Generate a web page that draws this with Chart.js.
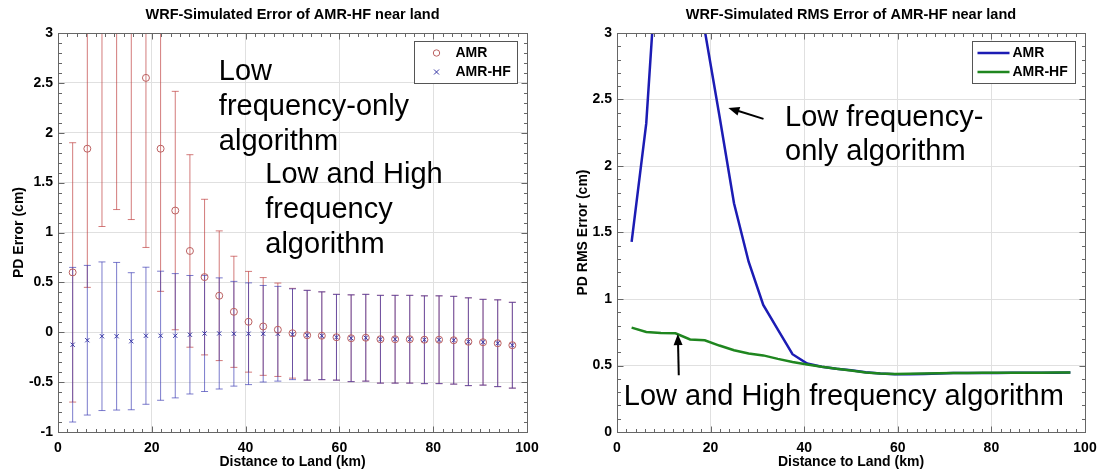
<!DOCTYPE html>
<html lang="en">
<head>
<meta charset="UTF-8">
<title>WRF-Simulated Error of AMR-HF near land</title>
<style>
  body { margin: 0; background: #fff; }
  .panel { position: absolute; top: 0; height: 472px; }
  #left { left: 0; width: 550px; }
  #right { left: 560px; width: 538px; }
</style>
</head>
<body>
<div class="panel" id="left"><canvas id="errChart"></canvas></div>
<div class="panel" id="right"><canvas id="rmsChart"></canvas></div>
<script src="https://cdn.jsdelivr.net/npm/chart.js"></script>
<script>
// distance bins (km)
const distanceKm = [3.125, 6.25, 9.375, 12.5, 15.625, 18.75, 21.875, 25, 28.125, 31.25,
  34.375, 37.5, 40.625, 43.75, 46.875, 50, 53.125, 56.25, 59.375, 62.5,
  65.625, 68.75, 71.875, 75, 78.125, 81.25, 84.375, 87.5, 90.625, 93.75, 96.875];

// left panel: mean PD error and spread (cm)
const amrMean = [0.60, 1.84, 3.3, 3.2, 3.2, 2.55, 1.84, 1.22, 0.815, 0.553,
  0.366, 0.205, 0.105, 0.058, 0.025, -0.01, -0.03, -0.035, -0.05, -0.06,
  -0.055, -0.07, -0.07, -0.07, -0.075, -0.075, -0.08, -0.095, -0.10, -0.11, -0.13];
const amrStd = [1.30, 1.39, 2.24, 1.97, 2.07, 1.70, 1.43, 1.195, 0.965, 0.78,
  0.65, 0.557, 0.505, 0.49, 0.468, 0.45, 0.45, 0.44, 0.43, 0.435,
  0.435, 0.44, 0.44, 0.44, 0.44, 0.44, 0.44, 0.44, 0.43, 0.435, 0.43];
const hfMean = [-0.125, -0.08, -0.04, -0.04, -0.09, -0.035, -0.035, -0.035, -0.025, -0.012,
  -0.012, -0.015, -0.015, -0.015, -0.015, -0.02, -0.03, -0.035, -0.05, -0.06,
  -0.055, -0.07, -0.07, -0.07, -0.075, -0.075, -0.08, -0.095, -0.10, -0.11, -0.13];
const hfStd = [0.775, 0.75, 0.745, 0.74, 0.687, 0.687, 0.647, 0.623, 0.594, 0.582,
  0.557, 0.525, 0.51, 0.484, 0.475, 0.455, 0.45, 0.44, 0.43, 0.435,
  0.435, 0.44, 0.44, 0.44, 0.44, 0.44, 0.44, 0.44, 0.43, 0.435, 0.43];

// right panel: RMS error (cm)
const amrRms = [1.43, 2.32, 4.0, 5.2, 4.6, 3.02, 2.38, 1.72, 1.28, 0.955,
  0.77, 0.585, 0.515, 0.49, 0.475, 0.465, 0.45, 0.44, 0.435, 0.435,
  0.437, 0.44, 0.443, 0.443, 0.444, 0.444, 0.445, 0.445, 0.445, 0.446, 0.447];
const hfRms = [0.785, 0.752, 0.745, 0.742, 0.696, 0.69, 0.65, 0.615, 0.59, 0.576,
  0.55, 0.527, 0.508, 0.49, 0.475, 0.462, 0.448, 0.44, 0.437, 0.438,
  0.44, 0.442, 0.444, 0.444, 0.445, 0.445, 0.446, 0.446, 0.446, 0.447, 0.448];

const xTicks = [0, 20, 40, 60, 80, 100];
const yTicksErr = [-1, -0.5, 0, 0.5, 1, 1.5, 2, 2.5, 3];
const yTicksRms = [0, 0.5, 1, 1.5, 2, 2.5, 3];

const FONT = '"Liberation Sans", Arial, sans-serif';
const gridColor = '#e0e0e0';
const axisColor = '#666';

function pts(ys) {
  return distanceKm.map((x, i) => ({ x: x, y: ys[i] }));
}

function xScale() {
  return {
    type: 'linear', min: 0, max: 100,
    afterBuildTicks: s => { s.ticks = xTicks.map(v => ({ value: v })); },
    afterFit: s => { s.height = 40; s.paddingLeft = 0; s.paddingRight = 0; },
    grid: { color: gridColor, drawTicks: false },
    border: { display: false },
    ticks: {
      color: '#000', font: { family: FONT, size: 14, weight: 'bold' }, padding: 8, maxRotation: 0,
      callback: v => String(v)
    },
    title: {
      display: true, text: 'Distance to Land (km)', color: '#000',
      font: { family: FONT, size: 14, weight: 'bold' }, padding: { top: 0, bottom: 1 }
    }
  };
}

function yScale(min, max, ticks, text, width, titlePad) {
  return {
    type: 'linear', min: min, max: max,
    afterBuildTicks: s => { s.ticks = ticks.map(v => ({ value: v })); },
    afterFit: s => { s.width = width; },
    grid: { color: gridColor, drawTicks: false },
    border: { display: false },
    ticks: {
      color: '#000', font: { family: FONT, size: 14, weight: 'bold' }, padding: 5,
      callback: v => String(v)
    },
    title: {
      display: true, text: text, color: '#000',
      font: { family: FONT, size: 14, weight: 'bold' }, padding: { top: titlePad, bottom: 0 }
    }
  };
}

function titleOpts(text) {
  return {
    display: true, text: text, fullSize: false, color: '#000',
    font: { family: FONT, size: 14.5, weight: 'bold' },
    padding: { top: 6.6, bottom: 9 }
  };
}

// vertical error bars with caps, drawn under the markers
const errorBars = {
  id: 'errorBars',
  beforeDatasetsDraw(chart) {
    const { ctx, chartArea: a, scales: { x, y } } = chart;
    ctx.save();
    ctx.beginPath();
    ctx.rect(a.left, a.top, a.width, a.height);
    ctx.clip();
    chart.data.datasets.forEach(ds => {
      if (!ds.errors) return;
      ctx.strokeStyle = ds.barColor;
      ctx.lineWidth = 1;
      ctx.beginPath();
      ds.data.forEach((p, i) => {
        const px = x.getPixelForValue(p.x);
        const top = y.getPixelForValue(p.y + ds.errors[i]);
        const bot = y.getPixelForValue(p.y - ds.errors[i]);
        ctx.moveTo(px, top); ctx.lineTo(px, bot);
        ctx.moveTo(px - 3.5, top); ctx.lineTo(px + 3.5, top);
        ctx.moveTo(px - 3.5, bot); ctx.lineTo(px + 3.5, bot);
      });
      ctx.stroke();
    });
    ctx.restore();
  }
};

// axes box with inward major/minor ticks on all four sides
function axesBox(xMinor, xMajor, yMinor, yMajor) {
  return {
    id: 'axesBox',
    afterDraw(chart) {
      const { ctx, chartArea: a, scales: { x, y } } = chart;
      const L = Math.round(a.left) + 0.5, R = Math.round(a.right) + 0.5;
      const T = Math.round(a.top) + 0.5, B = Math.round(a.bottom) + 0.5;
      const isMajor = (v, m) => Math.abs(v / m - Math.round(v / m)) < 1e-6;
      ctx.save();
      ctx.strokeStyle = axisColor;
      ctx.lineWidth = 1;
      ctx.beginPath();
      for (let v = x.min; v <= x.max + 1e-9; v += xMinor) {
        const px = Math.round(x.getPixelForValue(v)) + 0.5;
        const len = isMajor(v, xMajor) ? 6 : 3.5;
        ctx.moveTo(px, B); ctx.lineTo(px, B - len);
        ctx.moveTo(px, T); ctx.lineTo(px, T + len);
      }
      for (let v = y.min; v <= y.max + 1e-9; v += yMinor) {
        const py = Math.round(y.getPixelForValue(v)) + 0.5;
        const len = isMajor(v, yMajor) ? 6 : 3.5;
        ctx.moveTo(L, py); ctx.lineTo(L + len, py);
        ctx.moveTo(R, py); ctx.lineTo(R - len, py);
      }
      ctx.stroke();
      ctx.strokeRect(L, T, R - L, B - T);
      ctx.restore();
    }
  };
}

// boxed legend in the top right corner of the plot
const boxLegend = {
  id: 'boxLegend',
  afterDraw(chart) {
    const { ctx, chartArea: a } = chart;
    const w = 103, h = 42;
    const bx = Math.round(a.right - 10 - w) + 0.5, by = Math.round(a.top + 8) + 0.5;
    ctx.save();
    ctx.fillStyle = '#fff';
    ctx.fillRect(bx, by, w, h);
    ctx.strokeStyle = '#555';
    ctx.lineWidth = 1;
    ctx.strokeRect(bx, by, w, h);
    ctx.font = 'bold 14px ' + FONT;
    ctx.textBaseline = 'middle';
    chart.data.datasets.forEach((ds, i) => {
      const ry = by + 11.5 + i * 19;
      if (chart.config.type === 'line') {
        ctx.strokeStyle = ds.borderColor;
        ctx.lineWidth = 2.5;
        ctx.beginPath();
        ctx.moveTo(bx + 5, ry); ctx.lineTo(bx + 37, ry);
        ctx.stroke();
        ctx.fillStyle = '#000';
        ctx.fillText(ds.label, bx + 40, ry);
      } else {
        ctx.strokeStyle = ds.borderColor;
        ctx.lineWidth = 1;
        ctx.beginPath();
        const cx = bx + 22;
        if (ds.pointStyle === 'circle') {
          ctx.arc(cx, ry, 3.2, 0, Math.PI * 2);
        } else {
          ctx.moveTo(cx - 2.5, ry - 2.5); ctx.lineTo(cx + 2.5, ry + 2.5);
          ctx.moveTo(cx + 2.5, ry - 2.5); ctx.lineTo(cx - 2.5, ry + 2.5);
        }
        ctx.stroke();
        ctx.fillStyle = '#000';
        ctx.fillText(ds.label, bx + 41, ry);
      }
    });
    ctx.restore();
  }
};

// big annotation texts and arrows, anchored in data units
const errNotes = [
  { x: 34.3, y: 2.53, gap: 35, lines: ['Low', 'frequency-only', 'algorithm'] },
  { x: 44.2, y: 1.50, gap: 35, lines: ['Low and High', 'frequency', 'algorithm'] }
];
const rmsNotes = [
  { x: 35.9, y: 2.30, gap: 33.5, lines: ['Low frequency-', 'only algorithm'] },
  { x: 1.45, y: 0.20, gap: 0, lines: ['Low and High frequency algorithm'] }
];
const rmsArrows = [
  { from: [31.3, 2.354], to: [23.8, 2.437] },
  { from: [13.2, 0.427], to: [13.0, 0.736] }
];

function notes(list, arrows) {
  return {
    id: 'notes',
    afterDraw(chart) {
      const { ctx, scales: { x, y } } = chart;
      ctx.save();
      ctx.fillStyle = '#000';
      ctx.strokeStyle = '#000';
      ctx.font = '29px ' + FONT;
      ctx.textBaseline = 'alphabetic';
      list.forEach(n => {
        const px = x.getPixelForValue(n.x), py = y.getPixelForValue(n.y);
        n.lines.forEach((t, i) => ctx.fillText(t, px, py + i * n.gap));
      });
      arrows.forEach(ar => {
        const x0 = x.getPixelForValue(ar.from[0]), y0 = y.getPixelForValue(ar.from[1]);
        const x1 = x.getPixelForValue(ar.to[0]), y1 = y.getPixelForValue(ar.to[1]);
        const ang = Math.atan2(y1 - y0, x1 - x0);
        ctx.lineWidth = 2;
        ctx.beginPath();
        ctx.moveTo(x0, y0);
        ctx.lineTo(x1 - 8 * Math.cos(ang), y1 - 8 * Math.sin(ang));
        ctx.stroke();
        ctx.beginPath();
        ctx.moveTo(x1, y1);
        ctx.lineTo(x1 - 11 * Math.cos(ang) + 4.5 * Math.sin(ang), y1 - 11 * Math.sin(ang) - 4.5 * Math.cos(ang));
        ctx.lineTo(x1 - 11 * Math.cos(ang) - 4.5 * Math.sin(ang), y1 - 11 * Math.sin(ang) + 4.5 * Math.cos(ang));
        ctx.closePath();
        ctx.fill();
      });
      ctx.restore();
    }
  };
}

new Chart(document.getElementById('errChart'), {
  type: 'scatter',
  data: {
    datasets: [{
      label: 'AMR',
      data: pts(amrMean),
      errors: amrStd,
      barColor: 'rgba(190, 60, 60, 0.68)',
      pointStyle: 'circle',
      pointRadius: 3.5,
      borderWidth: 1,
      borderColor: '#bb6060',
      backgroundColor: 'rgba(0,0,0,0)'
    }, {
      label: 'AMR-HF',
      data: pts(hfMean),
      errors: hfStd,
      barColor: 'rgba(60, 60, 180, 0.68)',
      pointStyle: 'crossRot',
      pointRadius: 3,
      borderWidth: 1,
      borderColor: '#3535a5',
      backgroundColor: '#3535a5'
    }]
  },
  options: {
    responsive: true,
    maintainAspectRatio: false,
    animation: false,
    layout: { padding: { left: 0, right: 23, top: 0, bottom: 0 } },
    scales: {
      x: xScale(),
      y: yScale(-1, 3, yTicksErr, 'PD Error (cm)', 58, 10.5)
    },
    plugins: {
      legend: { display: false },
      tooltip: { enabled: false },
      title: titleOpts('WRF-Simulated Error of AMR-HF near land')
    }
  },
  plugins: [errorBars, axesBox(2, 20, 0.1, 0.5), boxLegend, notes(errNotes, [])]
});

new Chart(document.getElementById('rmsChart'), {
  type: 'line',
  data: {
    datasets: [{
      label: 'AMR',
      data: pts(amrRms),
      borderColor: '#1c1cb4',
      borderWidth: 2.5,
      pointRadius: 0,
      order: 1
    }, {
      label: 'AMR-HF',
      data: pts(hfRms),
      borderColor: '#1f861f',
      borderWidth: 2.5,
      pointRadius: 0,
      order: 0
    }]
  },
  options: {
    responsive: true,
    maintainAspectRatio: false,
    animation: false,
    layout: { padding: { left: 0, right: 13, top: 0, bottom: 0 } },
    scales: {
      x: xScale(),
      y: yScale(0, 3, yTicksRms, 'PD RMS Error (cm)', 57, 14.5)
    },
    plugins: {
      legend: { display: false },
      tooltip: { enabled: false },
      title: titleOpts('WRF-Simulated RMS Error of AMR-HF near land')
    }
  },
  plugins: [axesBox(2, 20, 0.1, 0.5), boxLegend, notes(rmsNotes, rmsArrows)]
});
</script>
</body>
</html>
